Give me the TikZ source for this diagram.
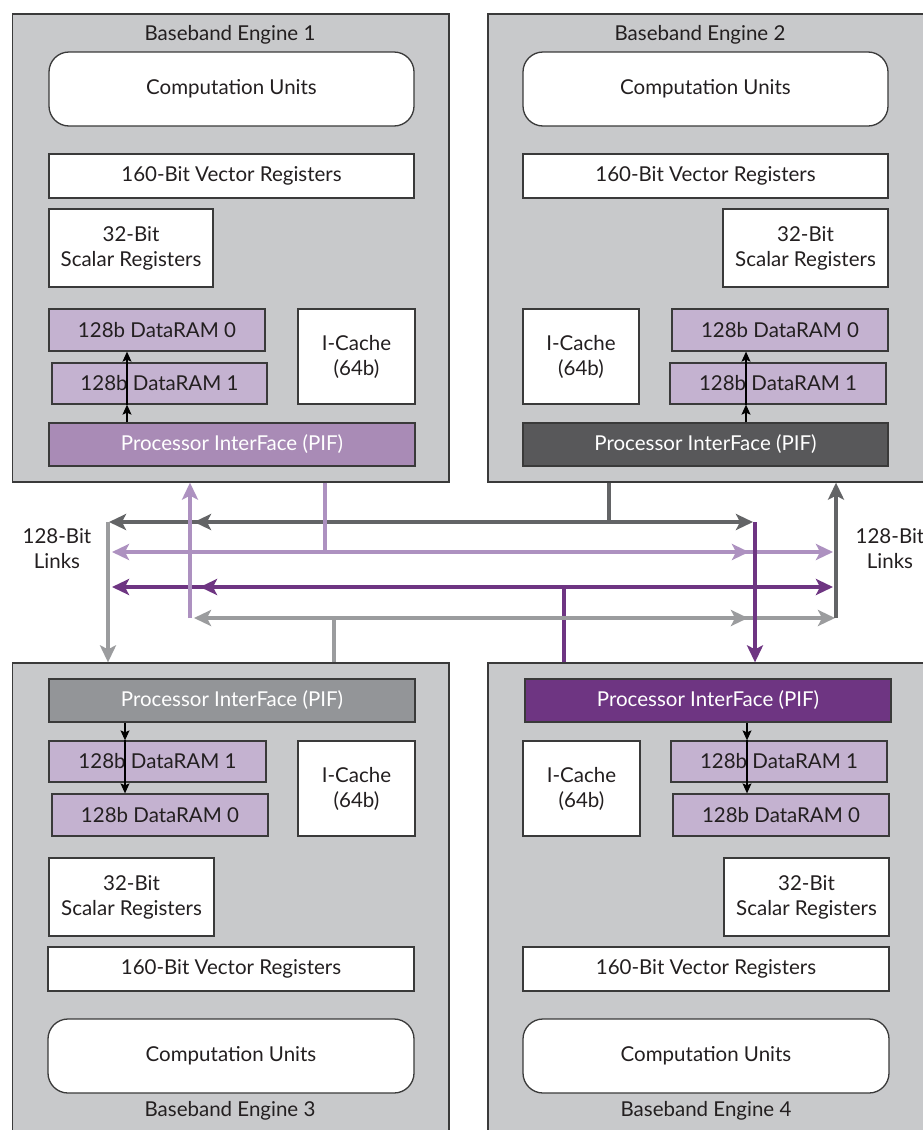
\documentclass[tikz,border=0pt]{standalone}
\usepackage{fontspec}
\setmainfont{Lato}
\usetikzlibrary{arrows.meta,calc}
\definecolor{eng}{HTML}{C8C9CB}
\definecolor{bord}{HTML}{3A3A3A}
\definecolor{txt}{HTML}{231F20}
\definecolor{ramc}{HTML}{C4B2D0}
\definecolor{pifA}{HTML}{A98BB6}
\definecolor{pifB}{HTML}{58585A}
\definecolor{pifC}{HTML}{939598}
\definecolor{pifD}{HTML}{6E3582}
\definecolor{lnA}{HTML}{AD91C0}
\definecolor{lnB}{HTML}{636466}
\definecolor{lnC}{HTML}{9B9C9E}
\definecolor{lnD}{HTML}{6E3582}
\newcommand\bx[7]{\node[#6, minimum width={#4-#2}, minimum height={#5-#3}] (#1) at ({(#2+#4)/2},{(#3+#5)/2}) {#7};}
\tikzset{
  lt/.tip={Stealth[length=17pt,width=16pt,inset=4pt]},
  st/.tip={Stealth[length=10pt,width=9pt,inset=2pt]},
}
\begin{document}
\begin{tikzpicture}[x=1pt,y=-1pt, font=\fontsize{20.5}{25}\selectfont, text=txt,
  engine/.style={draw=bord, line width=1.3pt, fill=eng, inner sep=0pt},
  unit/.style={draw=bord, line width=1.3pt, fill=white, inner sep=0pt, align=center},
  cu/.style={unit, rounded corners=20pt},
  ram/.style={unit, fill=ramc},
  pif/.style={unit, text=white},
  inarrow/.style={line width=1.1pt, draw=black, -{st}},
  link/.style={line width=4.8pt},
  lab/.style={align=center, inner sep=0pt},
]
\useasboundingbox (0,0) rectangle (923,1130);
\fill[white] (0,0) rectangle (923,1130);
\clip (0,0) rectangle (923,1130);

% engines
\node[engine, minimum width=436.3, minimum height=468] (e1) at (230.85,248) {};
\node[engine, minimum width=437, minimum height=468] (e2) at (706.5,248) {};
\node[engine, minimum width=436.3, minimum height=468] (e3) at (230.85,897) {};
\node[engine, minimum width=437, minimum height=468] (e4) at (706.5,897) {};

% engine 1
\node[lab] (t1) at (230,35) {Baseband Engine 1};
\bx{cu1}{49}{52}{414}{126}{cu}{Computation Units}
\bx{vr1}{49}{154}{414}{198}{unit}{160-Bit Vector Registers}
\bx{sr1}{49}{209}{213}{287}{unit}{32-Bit\\Scalar Registers}
\bx{dA1}{49}{309}{265}{351}{ram}{128b DataRAM 0}
\bx{dB1}{52}{363}{267}{404}{ram}{128b DataRAM 1}
\bx{ic1}{298}{309}{415}{404}{unit}{I-Cache\\(64b)}
\bx{pif1}{49}{423}{415}{466}{pif,fill=pifA}{Processor InterFace (PIF)}

% engine 2
\node[lab] (t2) at (700,35) {Baseband Engine 2};
\bx{cu2}{523}{52}{888}{126}{cu}{Computation Units}
\bx{vr2}{523}{154}{888}{198}{unit}{160-Bit Vector Registers}
\bx{sr2}{723}{209}{888}{287}{unit}{32-Bit\\Scalar Registers}
\bx{ic2}{523}{309}{639}{404}{unit}{I-Cache\\(64b)}
\bx{dA2}{672}{309}{888}{351}{ram}{128b DataRAM 0}
\bx{dB2}{670}{363}{886}{404}{ram}{128b DataRAM 1}
\bx{pif2}{523}{423}{888}{466}{pif,fill=pifB}{Processor InterFace (PIF)}

% engine 3
\node[lab] (t3) at (230,1111) {Baseband Engine 3};
\bx{pif3}{49}{679}{415}{722}{pif,fill=pifC}{Processor InterFace (PIF)}
\bx{dB3}{49}{741}{266}{782}{ram}{128b DataRAM 1}
\bx{dA3}{52}{794}{268}{836}{ram}{128b DataRAM 0}
\bx{ic3}{298}{741}{415}{836}{unit}{I-Cache\\(64b)}
\bx{sr3}{49}{858}{214}{936}{unit}{32-Bit\\Scalar Registers}
\bx{vr3}{48}{947}{414}{991}{unit}{160-Bit Vector Registers}
\bx{cu3}{48}{1019}{414}{1093}{cu}{Computation Units}

% engine 4
\node[lab] (t4) at (706,1111) {Baseband Engine 4};
\bx{pif4}{525}{679}{891}{722}{pif,fill=pifD}{Processor InterFace (PIF)}
\bx{ic4}{523}{741}{640}{836}{unit}{I-Cache\\(64b)}
\bx{dB4}{671}{741}{887}{782}{ram}{128b DataRAM 1}
\bx{dA4}{673}{794}{889}{836}{ram}{128b DataRAM 0}
\bx{sr4}{724}{858}{889}{936}{unit}{32-Bit\\Scalar Registers}
\bx{vr4}{523}{947}{889}{991}{unit}{160-Bit Vector Registers}
\bx{cu4}{523}{1019}{889}{1093}{cu}{Computation Units}

% internal arrows
\coordinate (a1) at (127,0);
\coordinate (a2) at (746,0);
\coordinate (a3) at (125,0);
\coordinate (a4) at (747,0);
\draw[inarrow] (pif1.north -| a1) -- (dB1.south -| a1);
\draw[inarrow] (dB1.south -| a1) -- (dA1.south -| a1);
\draw[inarrow] (pif2.north -| a2) -- (dB2.south -| a2);
\draw[inarrow] (dB2.south -| a2) -- (dA2.south -| a2);
\draw[inarrow] (pif3.south -| a3) -- (dB3.north -| a3);
\draw[inarrow] (dB3.north -| a3) -- (dA3.north -| a3);
\draw[inarrow] (pif4.south -| a4) -- (dB4.north -| a4);
\draw[inarrow] (dB4.north -| a4) -- (dA4.north -| a4);

% link labels
\node[lab] (lkL) at (57,549) {128-Bit\\Links};
\node[lab] (lkR) at (890,549) {128-Bit\\Links};

% link junctions
\coordinate (v3) at (108,522);
\coordinate (v1) at (190,618);
\coordinate (v4) at (755,522);
\coordinate (v2) at (836,618);
\coordinate (j1) at (325,552);
\coordinate (j2) at (609,522);
\coordinate (j3) at (334,618);
\coordinate (j4) at (564,587);

% engine 2 bus (dark gray)
\draw[link, lnB] (j2 |- e2.south) -- (j2);
\draw[link, lnB, {lt}-{lt}, shorten <=1pt, shorten >=2pt] (v3) -- (v4);
\draw[link, lnB, -{lt}, shorten >=4pt] (j2) -- (j2 -| v1);
% engine 1 bus (light purple)
\draw[link, lnA] (j1 |- e1.south) -- (j1);
\draw[link, lnA, {lt}-{lt}, shorten <=4pt, shorten >=3pt] (j1 -| v3) -- (j1 -| v2);
\draw[link, lnA, -{lt}, shorten >=6pt] (j1) -- (j1 -| v4);
% engine 4 bus (purple)
\draw[link, lnD] (j4 |- e4.north) -- (j4);
\draw[link, lnD, {lt}-{lt}, shorten <=4pt, shorten >=3pt] (j4 -| v3) -- (j4 -| v2);
\draw[link, lnD, -{lt}, shorten >=10pt] (j4) -- (j4 -| v1);
% engine 3 bus (gray)
\draw[link, lnC] (j3 |- e3.north) -- (j3);
\draw[link, lnC, {lt}-{lt}, shorten <=4pt, shorten >=1pt] (j3 -| v1) -- (j3 -| v2);
\draw[link, lnC, -{lt}, shorten >=7pt] (j3) -- (j3 -| v4);

% verticals into destinations
\draw[link, lnC, -{lt}] (v3) -- (v3 |- e3.north);
\draw[link, lnA, -{lt}] (v1) -- (v1 |- e1.south);
\draw[link, lnD, -{lt}] (v4) -- (v4 |- e4.north);
\draw[link, lnB, -{lt}] (v2) -- (v2 |- e2.south);
\end{tikzpicture}
\end{document}
